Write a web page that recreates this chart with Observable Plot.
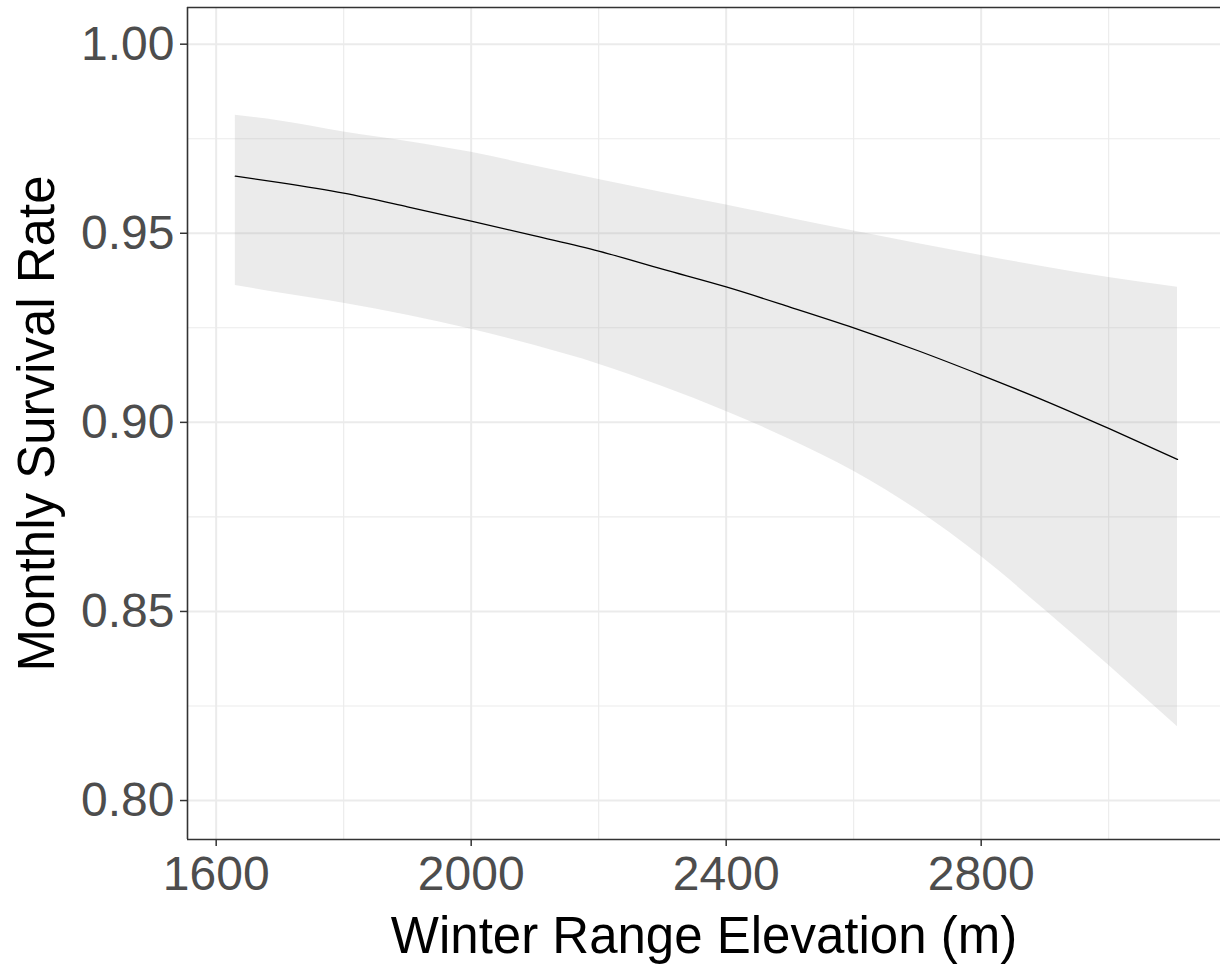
<!DOCTYPE html>
<html>
<head>
<meta charset="utf-8">
<script src="https://cdn.jsdelivr.net/npm/d3@7"></script>
<script src="https://cdn.jsdelivr.net/npm/@observablehq/plot@0.6"></script>
<style>
  html, body { margin: 0; padding: 0; background: #ffffff; }
  #chart { width: 1220px; height: 966px; overflow: hidden; }
</style>
</head>
<body>
<div id="chart"></div>
<script>
// Winter range elevation (m)
const elevation = [1630, 1700, 1800, 1900, 2000, 2100, 2200, 2300, 2400, 2500, 2600, 2700, 2800, 2900, 3000, 3108];
// Fitted monthly survival rate
const survival = [0.9651, 0.9634, 0.9606, 0.9570, 0.9532, 0.9493, 0.9453, 0.9405, 0.9358, 0.9305, 0.9250, 0.9190, 0.9125, 0.9057, 0.8984, 0.8902];
// Confidence band
const upper = [0.9812, 0.9797, 0.9768, 0.9743, 0.9714, 0.9678, 0.9642, 0.9608, 0.9575, 0.9540, 0.9506, 0.9473, 0.9441, 0.9411, 0.9383, 0.9357];
const lower = [0.9362, 0.9342, 0.9315, 0.9283, 0.9246, 0.9203, 0.9154, 0.9095, 0.9029, 0.8955, 0.8871, 0.8768, 0.8645, 0.8504, 0.8358, 0.8195];

const xMajor = [1600, 2000, 2400, 2800];
const xMinor = [1800, 2200, 2600, 3000];
const yMajor = [0.80, 0.85, 0.90, 0.95, 1.00];
const yMinor = [0.825, 0.875, 0.925, 0.975];

const xTitle = "Winter Range Elevation (m)";
const yTitle = "Monthly Survival Rate";

const data = elevation.map((e, i) => ({elev: e, fit: survival[i], lo: lower[i], hi: upper[i]}));

const xDomain = [1555, 3175.4];
const yDomain = [0.7897, 1.0097];

const font = "'Liberation Sans', Arial, Helvetica, sans-serif";

const chart = Plot.plot({
  width: 1220,
  height: 966,
  marginLeft: 187,
  marginRight: 0,
  marginTop: 7,
  marginBottom: 127,
  style: {fontFamily: font, background: "#ffffff"},
  x: {domain: xDomain, label: null},
  y: {domain: yDomain, label: null},
  marks: [
    Plot.gridX(xMinor, {stroke: "#EBEBEB", strokeOpacity: 1, strokeWidth: 1.1}),
    Plot.gridY(yMinor, {stroke: "#EBEBEB", strokeOpacity: 1, strokeWidth: 1.1}),
    Plot.gridX(xMajor, {stroke: "#EBEBEB", strokeOpacity: 1, strokeWidth: 2}),
    Plot.gridY(yMajor, {stroke: "#EBEBEB", strokeOpacity: 1, strokeWidth: 2}),
    Plot.areaY(data, {x: "elev", y1: "lo", y2: "hi", fill: "#999999", fillOpacity: 0.2, curve: "monotone-x"}),
    Plot.line(data, {x: "elev", y: "fit", stroke: "#000000", strokeWidth: 1.3, curve: "monotone-x"}),
    Plot.axisY(yMajor, {
      anchor: "left", tickSize: 7, tickPadding: 6, fontSize: 48,
      stroke: "#333333", fill: "#4D4D4D", strokeWidth: 1.5,
      tickFormat: d3.format(".2f"), label: null
    }),
    Plot.axisX(xMajor, {
      anchor: "bottom", tickSize: 7, tickPadding: 9, fontSize: 48,
      stroke: "#333333", fill: "#4D4D4D", strokeWidth: 1.5,
      tickFormat: d3.format("d"), label: null
    }),
    Plot.ruleX([xDomain[0]], {stroke: "#333333", strokeWidth: 1.6}),
    Plot.ruleY([yDomain[0], yDomain[1]], {stroke: "#333333", strokeWidth: 1.6}),
    Plot.text([xTitle], {
      frameAnchor: "bottom", dy: 97, text: d => d, fontSize: 51,
      fill: "#000000", textAnchor: "middle", lineAnchor: "middle"
    }),
    Plot.text([yTitle], {
      frameAnchor: "left", dx: -150, text: d => d, fontSize: 51, rotate: -90,
      fill: "#000000", textAnchor: "middle", lineAnchor: "middle"
    })
  ]
});

document.getElementById("chart").appendChild(chart);
</script>
</body>
</html>
